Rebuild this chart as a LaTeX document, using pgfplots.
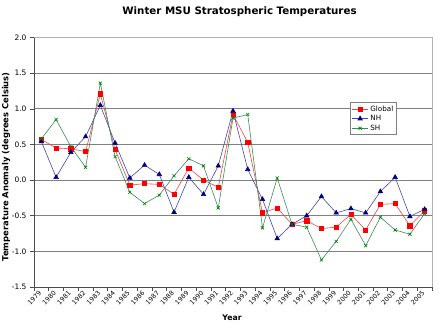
\documentclass[border=0pt]{standalone}
\usepackage{fontspec}
\setmainfont{DejaVu Sans}
\usepackage{pgfplots}
\pgfplotsset{compat=1.18}
\definecolor{gridgray}{RGB}{128,128,128}
\definecolor{gline}{RGB}{235,70,70}
\definecolor{nline}{RGB}{70,70,170}
\definecolor{sline}{RGB}{60,140,90}
\definecolor{nmark}{RGB}{0,0,128}
\definecolor{smark}{RGB}{0,128,0}
\pgfplotstableread{
x glob nh sh
0 0.57 0.54 0.58
1 0.45 0.04 0.85
2 0.44 0.39 0.47
3 0.40 0.61 0.18
4 1.21 1.05 1.36
5 0.43 0.52 0.33
6 -0.07 0.03 -0.17
7 -0.05 0.21 -0.33
8 -0.06 0.08 -0.21
9 -0.20 -0.45 0.06
10 0.17 0.04 0.30
11 0.00 -0.20 0.20
12 -0.10 0.20 -0.39
13 0.92 0.97 0.87
14 0.53 0.15 0.92
15 -0.46 -0.27 -0.67
16 -0.39 -0.82 0.03
17 -0.62 -0.62 -0.62
18 -0.57 -0.50 -0.66
19 -0.68 -0.23 -1.12
20 -0.66 -0.46 -0.86
21 -0.48 -0.40 -0.55
22 -0.70 -0.46 -0.92
23 -0.34 -0.16 -0.52
24 -0.33 0.04 -0.70
25 -0.64 -0.51 -0.76
26 -0.43 -0.41 -0.47
}\datatable
\begin{document}
\begin{tikzpicture}
\useasboundingbox (0bp,0bp) rectangle (439bp,330bp);
\node[font=\fontsize{10.3}{12}\selectfont\bfseries] at (239.5bp,318bp) {Winter MSU Stratospheric Temperatures};
\begin{axis}[
  at={(34bp,43bp)}, anchor=south west,
  scale only axis, width=398bp, height=249.4bp,
  xmin=-0.5, xmax=26.5, ymin=-1.5, ymax=2.0,
  xtick={0,...,26},
  xticklabels={1979,1980,1981,1982,1983,1984,1985,1986,1987,1988,1989,1990,1991,1992,1993,1994,1995,1996,1997,1998,1999,2000,2001,2002,2003,2004,2005},
  xtick style={draw=none},
  ytick={-1.5,-1,...,2},
  ytick pos=left, tick align=outside, major tick length=4bp,
  ytick style={draw=black!70, line width=0.6pt},
  ymajorgrids, grid style={draw=gridgray, line width=0.8pt},
  axis line style={draw=black!30, line width=0.6pt},
  /pgf/number format/assume math mode=true,
  yticklabel style={font=\fontsize{7.5}{9}\selectfont, /pgf/number format/.cd, fixed, fixed zerofill, precision=1},
  xticklabel style={font=\fontsize{6.4}{7}\selectfont, rotate=45, anchor=east, inner sep=1.5bp},
  xlabel={Year}, ylabel={Temperature Anomaly (degrees Celsius)},
  xlabel style={font=\fontsize{7.8}{9}\selectfont\bfseries, at={(rel axis cs:0.4975,-0.124)}, anchor=center},
  ylabel style={font=\fontsize{8.4}{10}\selectfont\bfseries, at={(rel axis cs:-0.0704,0.482)}, anchor=center},
  legend style={at={(0.794,0.7406)}, anchor=north west, draw=gridgray, line width=0.6pt,
    font=\fontsize{7.2}{8}\selectfont, inner xsep=1.5bp, inner ysep=1bp, row sep=-1.2bp},
  legend cell align=left,
  legend image code/.code={\draw[mark repeat=2,mark phase=2,#1] plot coordinates {(0bp,0bp) (8bp,0bp) (16bp,0bp)};},
  after end axis/.code={
    \draw[black!70, line width=0.6pt] (rel axis cs:0,1) -- (rel axis cs:0,0) -- (rel axis cs:1,0);
    \foreach \i in {0,...,27} {\draw[black!70, line width=0.6pt] (axis cs:{\i-0.5},-1.5) -- ++(0,-4bp);}
  },
]
\addplot[gline, line width=0.6pt, mark=square*, mark size=2.1bp, mark options={fill=red, draw=red, solid}] table[x=x,y=glob] {\datatable};
\addlegendentry{Global}
\addplot[nline, line width=0.6pt, mark=triangle*, mark size=2.6bp, mark options={fill=nmark, draw=nmark, solid}] table[x=x,y=nh] {\datatable};
\addlegendentry{NH}
\addplot[sline, line width=0.6pt, mark=x, mark size=2.2bp, mark options={draw=smark, solid}] table[x=x,y=sh] {\datatable};
\addlegendentry{SH}
\end{axis}
\end{tikzpicture}
\end{document}
